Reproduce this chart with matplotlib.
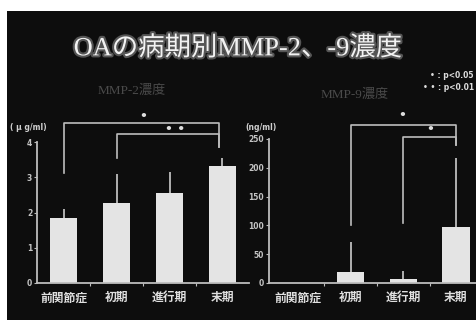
import numpy as np
import matplotlib
matplotlib.use("Agg")
import matplotlib.pyplot as plt
import matplotlib.patheffects as pe
from matplotlib.patches import Rectangle

stages = ["前関節症", "初期", "進行期", "末期"]

mmp2 = [1.83, 2.28, 2.55, 3.32]
mmp2_sd = [0.27, 0.80, 0.60, 0.23]

mmp9 = [0, 19, 7, 97]
mmp9_sd = [0, 52, 14, 120]

serif = ["Liberation Serif", "Noto Sans CJK JP"]
cjk = ["Noto Sans CJK JP", "DejaVu Sans"]

W, H = 477, 320
fig = plt.figure(figsize=(W / 100, H / 100), dpi=100, facecolor="white")

# dark slide panel
fig.patches.append(Rectangle((7 / W, 0), 1, 1 - 11 / H, transform=fig.transFigure,
                             facecolor="#0d0d0d", edgecolor="none", zorder=-10))


def px_box(x0, x1, ybot, ytop):
    return [x0 / W, 1 - ybot / H, (x1 - x0) / W, (ybot - ytop) / H]


ax1 = fig.add_axes(px_box(37, 249, 283, 142))
ax2 = fig.add_axes(px_box(269, 477, 283, 139))

bar_col = "#e4e4e4"
line_col = "#bdbdbd"
x = np.arange(4)

for ax, vals, sd in ((ax1, mmp2, mmp2_sd), (ax2, mmp9, mmp9_sd)):
    ax.set_facecolor("none")
    ax.bar(x, vals, width=0.52, color=bar_col, edgecolor="none", zorder=2)
    ax.errorbar(x, vals, yerr=[np.zeros(4), sd], fmt="none", ecolor=line_col,
                elinewidth=1.3, capsize=0, zorder=1)
    for s in ("top", "right"):
        ax.spines[s].set_visible(False)
    for s in ("left", "bottom"):
        ax.spines[s].set_color(line_col)
        ax.spines[s].set_linewidth(1.3)
    ax.set_xticks([0.5, 1.5, 2.5])
    ax.set_xticklabels([])
    ax.tick_params(axis="x", which="major", length=2, color=line_col)
    ax.set_xticks(x, minor=True)
    ax.set_xticklabels(stages, minor=True, color="#e0e0e0", fontsize=8.5,
                       family=cjk, fontweight="bold")
    ax.tick_params(axis="x", which="minor", length=0, pad=6)
    ax.tick_params(axis="y", length=2, color=line_col, labelsize=5.5,
                   labelcolor="#c4c4c4", pad=1.5)

ax1.set_xlim(-0.5, 3.5)
ax1.set_ylim(0, 4)
ax1.set_yticks([0, 1, 2, 3, 4])
ax2.set_xlim(-0.55, 3.4)
ax2.set_ylim(0, 250)
ax2.set_yticks([0, 50, 100, 150, 200, 250])
for t in ax1.get_yticklabels() + ax2.get_yticklabels():
    t.set_fontweight("bold")


def bracket(ax, xl, xr, y, yl, yr, mark, mx, my):
    ax.plot([xl, xl, xr, xr], [yl, y, y, yr], color=line_col, lw=1.2,
            clip_on=False, zorder=3)
    ax.text(mx, my, mark, color="#dddddd", fontsize=9, ha="center",
            va="center", fontweight="bold")


# significance brackets
bracket(ax1, 0, 2.93, 4.54, 3.12, 3.86, "•", 1.5, 4.71)
bracket(ax1, 1, 2.93, 4.23, 3.55, 3.86, "• •", 2.1, 4.36)
bracket(ax2, 1, 3, 274, 100, 240, "•", 1.97, 290)
bracket(ax2, 2, 3, 253, 104, 240, "•", 2.52, 266)

# units
fig.text(10 / W, 1 - 128 / H, "( μ g/ml)", color="#cfcfcf", fontsize=5.5,
         fontweight="bold", va="center")
fig.text(245 / W, 1 - 127 / H, "(ng/ml)", color="#cfcfcf", fontsize=5.5,
         fontweight="bold", va="center")

# panel headings
fig.text(132 / W, 1 - 91 / H, "MMP-2濃度", color="#4a4a4a", fontsize=9.5,
         family=serif, ha="center", va="center")
fig.text(355 / W, 1 - 95 / H, "MMP-9濃度", color="#4a4a4a", fontsize=9.5,
         family=serif, ha="center", va="center")

fig.text(474 / W, 1 - 76 / H, "• : p<0.05", color="#dddddd", fontsize=5.5,
         fontweight="bold", ha="right", va="center")
fig.text(474 / W, 1 - 88 / H, "• • : p<0.01", color="#dddddd", fontsize=5.5,
         fontweight="bold", ha="right", va="center")

fig.text(238 / W, 1 - 48 / H, "OAの病期別MMP-2、-9濃度", color="#f2f2f2",
         fontsize=19, family=serif, ha="center", va="center",
         path_effects=[pe.withStroke(linewidth=3, foreground="#555555")])

fig.savefig("out.png", dpi=100, facecolor="white")
